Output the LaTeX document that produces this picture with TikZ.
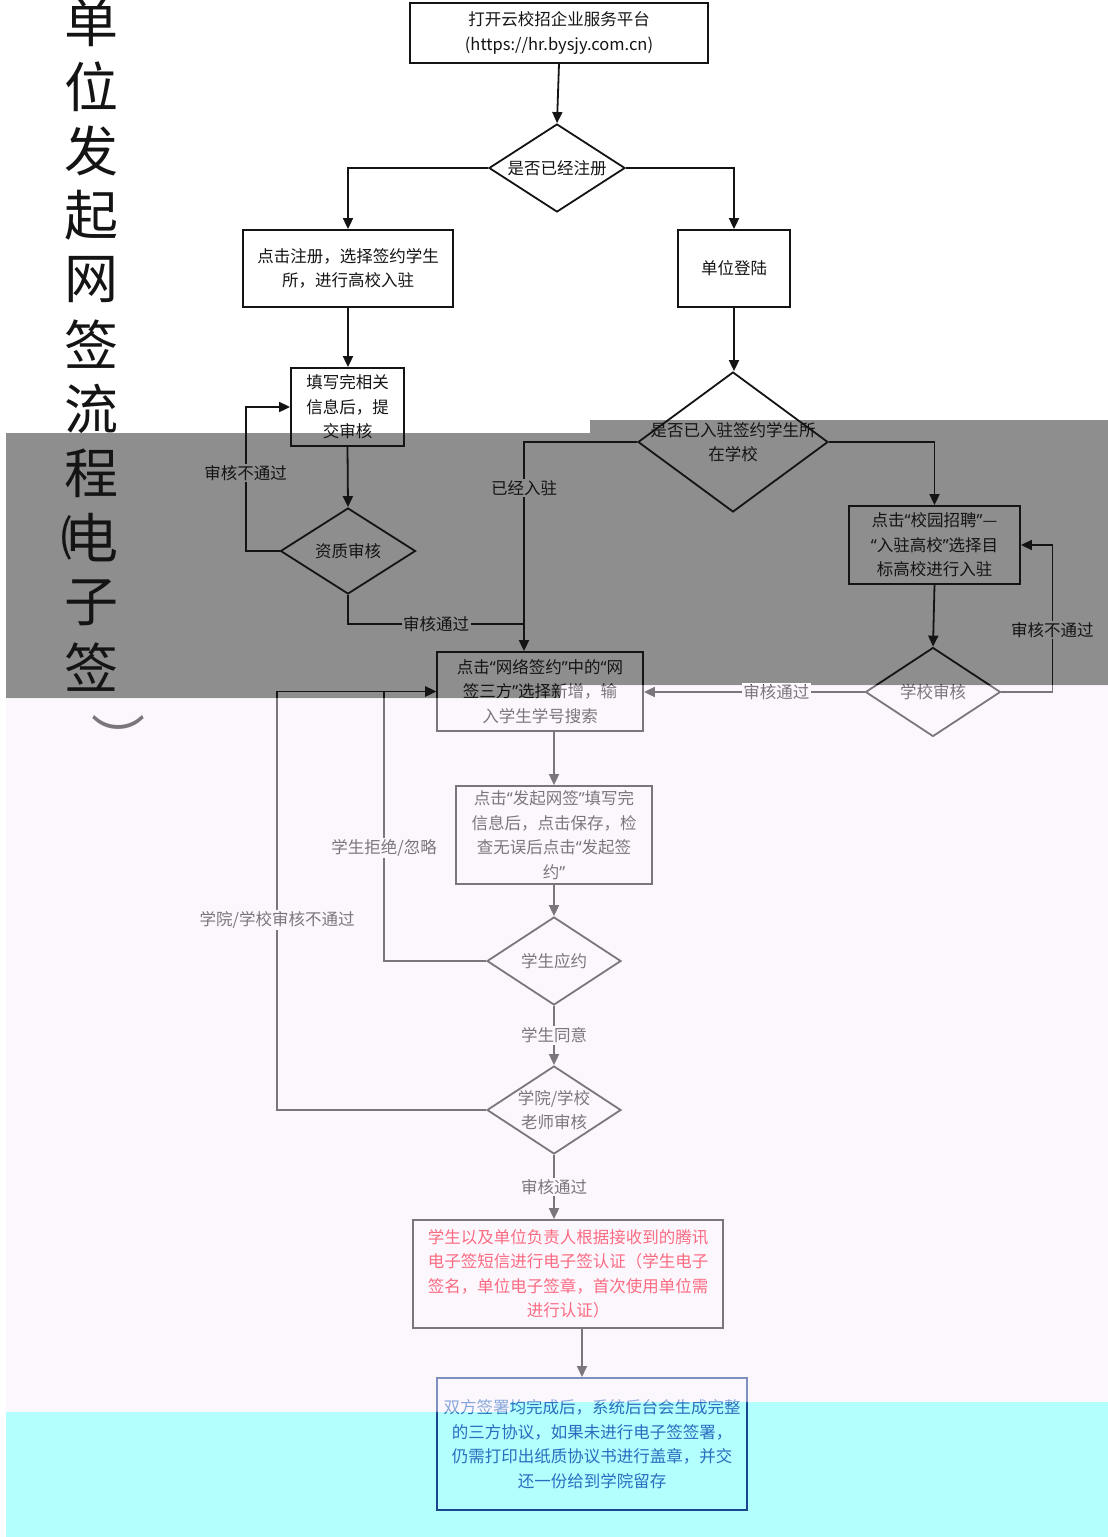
\documentclass[tikz,border=0pt]{standalone}
\usepackage{fontspec}
\setmainfont{Noto Sans CJK SC}
\newfontfamily\qfont{Noto Sans}
\newcommand{\oq}{{\qfont “}}
\newcommand{\cq}{{\qfont ”}}
\usetikzlibrary{arrows.meta,shapes.geometric,calc}
\definecolor{bandgray}{RGB}{142,142,142}
\definecolor{washc}{RGB}{250,238,252}
\definecolor{cyanband}{RGB}{178,255,254}
\definecolor{ink}{RGB}{20,20,20}
\definecolor{redtxt}{RGB}{250,0,30}
\definecolor{bluetxt}{RGB}{40,110,190}
\definecolor{blueline}{RGB}{25,70,140}
\begin{document}
\begin{tikzpicture}[x=1pt,y=-1pt,
  every node/.style={font=\fontsize{16.5}{24.5}\selectfont, text=ink},
  box/.style={draw=ink, line width=1.8pt, align=center, inner sep=0pt},
  dia/.style={draw=ink, line width=1.8pt, diamond, align=center, inner sep=0pt},
  conn/.style={draw=ink, line width=1.8pt},
  arr/.style={conn, -{Triangle[length=11pt,width=10pt]}},
  glbl/.style={fill=bandgray, inner sep=1.5pt},
  plbl/.style={fill=white, inner sep=1.5pt},
  ttl/.style={font=\fontsize{54}{54}\selectfont, text=ink, inner sep=0pt},
]
\useasboundingbox (0,0) rectangle (1108,1537);
\fill[white] (0,0) rectangle (1108,1537);
% background bands
\fill[bandgray] (6,433) -- (590,433) -- (590,420) -- (1108,420) -- (1108,685) -- (560,685) -- (560,698) -- (6,698) -- cycle;
\fill[cyanband] (6,1412) -- (510,1412) -- (510,1402) -- (1108,1402) -- (1108,1537) -- (6,1537) -- cycle;

% title
\foreach \c [count=\i from 0] in {单,位,发,起,网,签,流,程,电,子,签}
  \node[ttl] (t\i) at (91,{22+64.5*\i}) {\c};
\node[ttl, font=\fontsize{44}{44}\selectfont] (tpl) at (66,538) {(};
\node[ttl] (tpr) at (118,738) {︶};

% nodes
\node[box, minimum width=298pt, minimum height=60pt] (b1) at (559,33) {打开云校招企业服务平台\\(https://hr.bysjy.com.cn)};
\node[dia, minimum width=136pt, minimum height=88pt] (d1) at (557,168) {\makebox[0pt]{是否已经注册}};
\node[box, minimum width=210pt, minimum height=77pt] (b2) at (348,268.5) {点击注册，选择签约学生\\所，进行高校入驻};
\node[box, minimum width=112pt, minimum height=77pt] (b3) at (734,268.5) {单位登陆};
\node[box, minimum width=113pt, minimum height=78pt] (b4) at (347.5,407) {填写完相关\\信息后，提\\交审核};
\node[dia, minimum width=190pt, minimum height=140pt] (d2) at (733,442) {\makebox[0pt]{是否已入驻签约学生所}\\\makebox[0pt]{在学校}};
\node[dia, minimum width=135pt, minimum height=86pt] (d3) at (348,551) {\makebox[0pt]{资质审核}};
\node[box, minimum width=171pt, minimum height=78pt] (b6) at (934.5,545) {点击\oq 校园招聘\cq —\\\oq 入驻高校\cq 选择目\\标高校进行入驻};
\node[box, minimum width=206pt, minimum height=79pt] (b5) at (540,691.5) {点击\oq 网络签约\cq 中的\oq 网\\签三方\cq 选择新增，输\\入学生学号搜索};
\node[dia, minimum width=135pt, minimum height=89pt] (d4) at (933,692) {\makebox[0pt]{学校审核}};
\node[box, minimum width=196pt, minimum height=98pt] (b7) at (554,835) {点击\oq 发起网签\cq 填写完\\信息后，点击保存，检\\查无误后点击\oq 发起签\\约\cq};
\node[dia, minimum width=134pt, minimum height=88pt] (d5) at (554,961) {\makebox[0pt]{学生应约}};
\node[dia, minimum width=134pt, minimum height=88pt] (d6) at (554,1110) {\makebox[0pt]{学院/学校}\\\makebox[0pt]{老师审核}};
\node[box, text=redtxt, minimum width=310pt, minimum height=108pt] (b8) at (568,1274) {学生以及单位负责人根据接收到的腾讯\\电子签短信进行电子签认证（学生电子\\签名，单位电子签章，首次使用单位需\\进行认证）};
\node[box, draw=blueline, text=bluetxt, line width=2pt, minimum width=310pt, minimum height=132pt] (b9) at (592,1444) {双方签署均完成后，系统后台会生成完整\\的三方协议，如果未进行电子签签署，\\仍需打印出纸质协议书进行盖章，并交\\还一份给到学院留存};

\coordinate (j1) at (524,624);

% connectors
\draw[arr] (b1.south) -- (d1.north);
\draw[arr] (d1.west) -| (b2.north);
\draw[arr] (d1.east) -| (b3.north);
\draw[arr] (b2.south) -- (b2.south |- b4.north);
\draw[arr] (b3.south) -- (b3.south |- d2.north);
\draw[arr] (b4.south) -- (d3.north);
\draw[arr] (d3.west) -- ++(-34,0) |- (b4.west) node[pos=0.27, glbl] {审核不通过};
\draw[conn] (d3.south) |- (j1) node[pos=0.75, glbl] {审核通过};
\draw[arr] (d2.west) -| (j1 |- b5.north) node[pos=0.61, glbl] {已经入驻};
\draw[arr] (d2.east) -| (b6.north);
\draw[arr] (b6.south) -- (d4.north);
\draw[arr] (d4.west) -- (d4.west -| b5.east) node[pos=0.4, plbl] {审核通过};
\draw[arr] (d4.east) -- ++(51,0) |- (b6.east) node[pos=0.21, glbl] {审核不通过};
\draw[arr] ([xshift=14pt]b5.south) -- ([xshift=14pt]b5.south |- b7.north);
\draw[arr] (b7.south) -- (d5.north);
\draw[arr] (d5.west) -- ++(-102,0) |- (b5.west) node[pos=0.21, plbl] {学生拒绝/忽略};
\draw[arr] (d5.south) -- (d6.north) node[midway, plbl] {学生同意};
\draw[arr] (d6.west) -- ++(-209,0) |- (b5.west) node[pos=0.227, plbl] {学院/学校审核不通过};
\draw[arr] (d6.south) -- (d6.south |- b8.north) node[midway, plbl] {审核通过};
\draw[arr] ([xshift=14pt]b8.south) -- ([xshift=14pt]b8.south |- b9.north);

% washed-out band overlay
\fill[washc, opacity=0.45] (6,698) -- (560,698) -- (560,685) -- (1108,685) -- (1108,1402) -- (510,1402) -- (510,1412) -- (6,1412) -- cycle;
\end{tikzpicture}
\end{document}
